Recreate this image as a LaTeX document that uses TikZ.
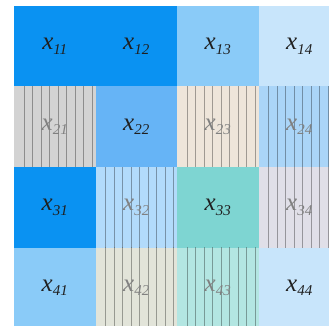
\documentclass[tikz,border=0pt]{standalone}
\usepackage{fontspec}
\setmainfont{Liberation Serif}
\usepackage{xcolor}
\usetikzlibrary{positioning}

\definecolor{deepblue}{HTML}{0A92F2}
\definecolor{midblue}{HTML}{66B4F6}
\definecolor{skyblue}{HTML}{8ACBF8}
\definecolor{paleblue}{HTML}{C8E5FB}
\definecolor{iceblue}{HTML}{AAD5F8}
\definecolor{frostblue}{HTML}{B2DBFB}
\definecolor{tealcell}{HTML}{7ED5D2}
\definecolor{paleteal}{HTML}{B3E6E2}
\definecolor{silver}{HTML}{D3D3D3}
\definecolor{sand}{HTML}{EEE5DA}
\definecolor{lavender}{HTML}{E0DFE8}
\definecolor{sage}{HTML}{E2E4D9}

\newcommand{\cellx}[1]{\textit{x}\raisebox{-0.4ex}{\fontsize{15}{15}\selectfont\textit{#1}}}

\begin{document}
\begin{tikzpicture}[x=1pt, y=-1pt,
  cell/.style={fill=#1, inner sep=0pt, minimum width=81.5pt, minimum height=80.5pt,
    font=\fontsize{25}{25}\selectfont, text=black!88},
  lined/.style={cell=#1, text=black!50,
    path picture={\foreach \k in {0,...,8}
      \draw[#1!45!black, opacity=0.6, line width=1pt]
        ([xshift=10pt+\k*8.5pt]path picture bounding box.south west) -- ++(0pt,90pt);}}
]
\useasboundingbox (0,0) rectangle (329,326);
\clip (0,0) rectangle (329,326);

% row 1
\node[cell=deepblue] (c11) at (54.75,46.25) {\cellx{11}};
\node[cell=deepblue] (c12) at (136.25,46.25) {\cellx{12}};
\node[cell=skyblue] (c13) at (217.75,46.25) {\cellx{13}};
\node[cell=paleblue] (c14) at (299.25,46.25) {\cellx{14}};
% row 2
\node[lined=silver] (c21) at (54.75,126.75) {\cellx{21}};
\node[cell=midblue] (c22) at (136.25,126.75) {\cellx{22}};
\node[lined=sand] (c23) at (217.75,126.75) {\cellx{23}};
\node[lined=iceblue] (c24) at (299.25,126.75) {\cellx{24}};
% row 3
\node[cell=deepblue] (c31) at (54.75,207.25) {\cellx{31}};
\node[lined=frostblue] (c32) at (136.25,207.25) {\cellx{32}};
\node[cell=tealcell] (c33) at (217.75,207.25) {\cellx{33}};
\node[lined=lavender] (c34) at (299.25,207.25) {\cellx{34}};
% row 4
\node[cell=skyblue] (c41) at (54.75,287.75) {\cellx{41}};
\node[lined=sage] (c42) at (136.25,287.75) {\cellx{42}};
\node[lined=paleteal] (c43) at (217.75,287.75) {\cellx{43}};
\node[cell=paleblue] (c44) at (299.25,287.75) {\cellx{44}};
\end{tikzpicture}
\end{document}
